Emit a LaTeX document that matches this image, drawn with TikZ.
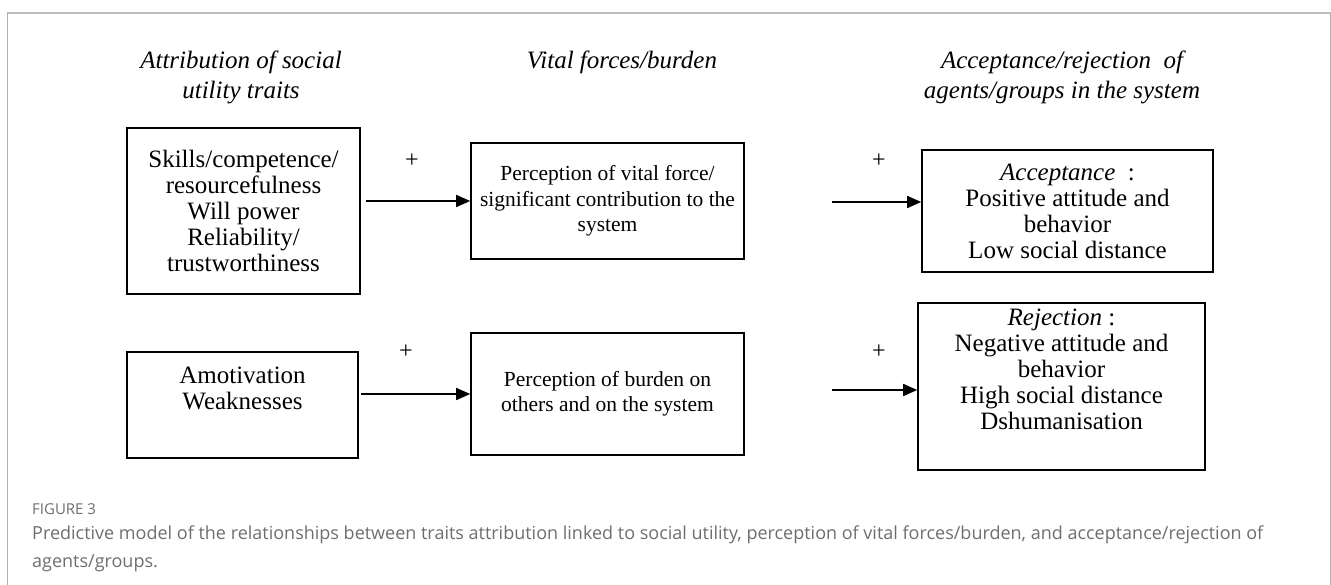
\documentclass[tikz,border=0pt]{standalone}
\usepackage{fontspec}
\setmainfont{Liberation Serif}
\newfontfamily\capfont{Open Sans}
\usetikzlibrary{arrows.meta}
\definecolor{framegray}{HTML}{BDBDBD}
\definecolor{capgray}{HTML}{6E6E6E}
\tikzset{
  box/.style={draw, line width=1.6pt, align=center, inner sep=0pt,
    font=\fontsize{25}{26}\selectfont},
  midbox/.style={box, font=\fontsize{21.5}{25.5}\selectfont},
  hdr/.style={align=center, font=\fontsize{25}{30}\selectfont\itshape},
  plus/.style={font=\fontsize{24}{26}\selectfont},
  arr/.style={line width=1.6pt, -{Triangle[length=14pt,width=12pt]}},
}
\begin{document}
\begin{tikzpicture}[x=1pt,y=-1pt]
\useasboundingbox (0,0) rectangle (1331,585);
% frame
\draw[framegray, line width=2pt] (7,13) -- (1331,13);
\draw[framegray!80!gray, line width=1pt] (7,13) -- (7,585);
\draw[framegray!80!gray, line width=1pt] (1330,13) -- (1330,585);
% headers
\node[hdr] (h1) at (241,77) {Attribution of social\\utility traits};
\node[hdr] (h2) at (622,62) {Vital forces/burden};
\node[hdr] (h3) at (1062,77) {Acceptance/rejection\ \ of\\agents/groups in the system};
% row 1
\node[box, minimum width=233pt, minimum height=166pt] (A) at (243.5,211)
  {Skills/competence/\\resourcefulness\\Will power\\Reliability/\\trustworthiness};
\node[midbox, minimum width=273pt, minimum height=116pt] (B) at (607.5,201)
  {Perception of vital force/\\significant contribution to the\\system};
\node[box, minimum width=291pt, minimum height=122pt] (C) at (1067.5,211)
  {\textit{Acceptance}\ \ :\\Positive attitude and\\behavior\\Low social distance};
% row 2
\node[box, minimum width=231pt, minimum height=106pt] (D) at (242.5,405)
  {Amotivation\\Weaknesses\\\strut};
\node[midbox, minimum width=273pt, minimum height=122pt] (E) at (607.5,394)
  {Perception of burden on\\others and on the system};
\node[box, minimum width=287pt, minimum height=167pt] (F) at (1061.5,386.5)
  {\textit{Rejection}\ :\\Negative attitude and\\behavior\\High social distance\\Dshumanisation\\\strut};
% connectors
\coordinate (s1) at (366,201);
\coordinate (s2) at (832,202);
\coordinate (s3) at (361,394);
\coordinate (s4) at (832,390);
\draw[arr] (s1) -- (s1 -| B.west);
\draw[arr] (s2) -- (s2 -| C.west);
\draw[arr] (s3) -- (s3 -| E.west);
\draw[arr] (s4) -- (s4 -| F.west);
\node[plus] (p1) at (412,161) {+};
\node[plus] (p2) at (879,161) {+};
\node[plus] (p3) at (406,352) {+};
\node[plus] (p4) at (879,352) {+};
% caption
\node[anchor=west, text=capgray, font=\capfont\fontsize{15}{17}\selectfont, inner sep=0pt] (fig) at (32,509) {FIGURE 3};
\node[anchor=north west, text=capgray, align=left, inner sep=0pt,
  font=\capfont\fontsize{18}{28}\selectfont] (cap) at (32,526)
  {Predictive model of the relationships between traits attribution linked to social utility, perception of vital forces/burden, and acceptance/rejection of\\agents/groups.};
\end{tikzpicture}
\end{document}
